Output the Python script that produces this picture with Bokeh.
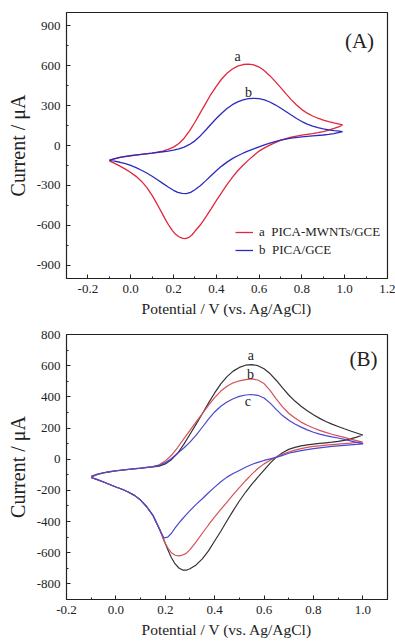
from bokeh.plotting import figure
from bokeh.layouts import column
from bokeh.models import FixedTicker, CustomJSTickFormatter, Label, Legend, LegendItem
from bokeh.embed import file_html
from bokeh.resources import INLINE

FONT = "Liberation Serif"

# ---------------- Panel A data (potential V, current uA) ----------------
A_a_up_x = [-0.10, -0.075, -0.05, -0.025, 0.00, 0.05, 0.10, 0.125, 0.15, 0.175, 0.20,
            0.225, 0.25, 0.275, 0.30, 0.325, 0.35, 0.375, 0.40, 0.425, 0.45, 0.475, 0.50,
            0.525, 0.55, 0.575, 0.60, 0.625, 0.65, 0.675, 0.70, 0.725, 0.75, 0.775, 0.80,
            0.825, 0.85, 0.875, 0.90, 0.925, 0.95, 0.975, 0.99]
A_a_up_y = [-115, -100, -90, -83, -77, -67, -57, -50, -42, -29, -12,
            15, 55, 110, 175, 245, 315, 385, 445, 500, 543, 575, 597,
            609, 612, 606, 590, 562, 525, 482, 437, 390, 345, 305, 270,
            243, 222, 205, 191, 180, 170, 161, 155]
A_a_lo_x = [0.99, 0.975, 0.95, 0.925, 0.90, 0.875, 0.85, 0.825, 0.80, 0.775, 0.75, 0.725,
            0.70, 0.675, 0.65, 0.625, 0.60, 0.575, 0.55, 0.525, 0.50, 0.475, 0.45, 0.425,
            0.40, 0.375, 0.35, 0.325, 0.30, 0.285, 0.27, 0.255, 0.24, 0.225, 0.21, 0.195,
            0.18, 0.165, 0.15, 0.125, 0.10, 0.075, 0.05, 0.025, 0.00, -0.025, -0.05, -0.075, -0.10]
A_a_lo_y = [155, 142, 128, 115, 105, 97, 90, 84, 78, 71, 62, 52,
            38, 22, 3, -18, -42, -75, -110, -148, -190, -240, -295, -355,
            -415, -478, -540, -598, -645, -675, -693, -700, -697, -686, -668, -640,
            -605, -565, -520, -445, -375, -315, -268, -232, -203, -178, -155, -135, -115]

A_b_up_x = [-0.10, -0.075, -0.05, -0.025, 0.00, 0.05, 0.10, 0.15, 0.175, 0.20, 0.225, 0.25,
            0.275, 0.30, 0.325, 0.35, 0.375, 0.40, 0.425, 0.45, 0.475, 0.50, 0.525, 0.55,
            0.575, 0.60, 0.625, 0.65, 0.675, 0.70, 0.725, 0.75, 0.775, 0.80, 0.825, 0.85,
            0.875, 0.90, 0.925, 0.95, 0.975, 0.99]
A_b_up_y = [-110, -98, -89, -82, -76, -66, -57, -47, -42, -35, -26, -12,
            8, 35, 72, 115, 160, 203, 243, 278, 307, 328, 343, 352,
            355, 352, 343, 327, 306, 282, 256, 229, 203, 180, 161, 146,
            134, 125, 118, 112, 108, 105]
A_b_lo_x = [0.99, 0.975, 0.95, 0.925, 0.90, 0.85, 0.80, 0.75, 0.70, 0.675, 0.65, 0.625,
            0.60, 0.575, 0.55, 0.525, 0.50, 0.475, 0.45, 0.425, 0.40, 0.375, 0.35, 0.325,
            0.30, 0.28, 0.26, 0.24, 0.22, 0.20, 0.175, 0.15, 0.125, 0.10, 0.075, 0.05,
            0.025, 0.00, -0.025, -0.05, -0.075, -0.10]
A_b_lo_y = [105, 98, 90, 84, 79, 72, 65, 55, 40, 30, 18, 4,
            -10, -25, -41, -58, -77, -99, -125, -155, -190, -228, -266, -302,
            -333, -352, -362, -360, -352, -337, -312, -285, -257, -231, -207, -186,
            -166, -150, -137, -126, -117, -110]

A_x_ticks = [-0.2, 0.0, 0.2, 0.4, 0.6, 0.8, 1.0, 1.2]
A_y_ticks = [-900, -600, -300, 0, 300, 600, 900]
A_x_minor = [-0.3, -0.2, -0.1, 0.0, 0.1, 0.2, 0.3, 0.4, 0.5, 0.6, 0.7, 0.8, 0.9, 1.0, 1.1, 1.2]
A_y_minor = [-1050, -900, -750, -600, -450, -300, -150, 0, 150, 300, 450, 600, 750, 900]
A_legend = ["a  PICA-MWNTs/GCE", "b  PICA/GCE"]
A_curve_tags = ["a", "b"]
A_tag_x = [0.50, 0.55]
A_tag_y = [668, 398]

# ---------------- Panel B data ----------------
B_up_x = [-0.10, -0.075, -0.05, -0.025, 0.00, 0.05, 0.10, 0.15, 0.175, 0.20, 0.225, 0.25,
          0.275, 0.30, 0.325, 0.35, 0.375, 0.40, 0.425, 0.45, 0.475, 0.50, 0.525, 0.55,
          0.575, 0.60, 0.625, 0.65, 0.675, 0.70, 0.725, 0.75, 0.775, 0.80, 0.825, 0.85,
          0.875, 0.90, 0.925, 0.95, 0.975, 1.00]
B_a_up_y = [-115, -98, -88, -81, -75, -66, -58, -50, -44, -30, -3, 38,
            95, 160, 225, 292, 360, 425, 483, 530, 565, 589, 603, 607,
            600, 580, 548, 505, 457, 412, 373, 340, 311, 285, 262, 242,
            225, 210, 195, 181, 168, 155]
B_b_up_y = [-112, -97, -87, -80, -74, -65, -57, -47, -36, -12, 25, 75,
            130, 185, 240, 292, 345, 395, 437, 468, 490, 503, 511, 515,
            508, 485, 440, 385, 336, 295, 264, 238, 218, 200, 185, 172,
            160, 150, 140, 129, 119, 110]
B_c_up_y = [-110, -96, -87, -80, -74, -65, -57, -48, -40, -22, 5, 38,
            72, 110, 155, 205, 257, 303, 340, 367, 388, 403, 412, 415,
            410, 393, 360, 318, 280, 250, 226, 206, 188, 173, 161, 151,
            143, 136, 127, 118, 108, 100]

B_lo_x = [1.00, 0.975, 0.95, 0.925, 0.90, 0.875, 0.85, 0.825, 0.80, 0.775, 0.75, 0.725,
          0.70, 0.675, 0.65, 0.625, 0.60, 0.575, 0.55, 0.525, 0.50, 0.475, 0.45, 0.425,
          0.40, 0.375, 0.35, 0.325, 0.30, 0.285, 0.27, 0.255, 0.24, 0.225, 0.21, 0.195,
          0.18, 0.165, 0.15, 0.125, 0.10, 0.075, 0.05, 0.025, 0.00, -0.025, -0.05, -0.075, -0.10]
B_a_lo_y = [155, 142, 130, 121, 114, 109, 105, 101, 97, 92, 85, 76,
            63, 42, 13, -25, -70, -115, -162, -212, -268, -330, -395, -462,
            -525, -588, -639, -678, -703, -712, -711, -698, -672, -632, -580, -520,
            -458, -410, -360, -305, -262, -232, -210, -193, -178, -162, -146, -131, -117]
B_b_lo_y = [110, 108, 103, 100, 97, 94, 90, 86, 82, 76, 68, 58,
            45, 32, 15, -6, -30, -60, -97, -138, -182, -227, -275, -322,
            -370, -422, -475, -530, -580, -604, -615, -620, -616, -600, -568, -525,
            -462, -410, -360, -305, -262, -232, -210, -193, -178, -162, -146, -131, -117]
B_c_lo_y = [98, 95, 92, 89, 86, 82, 78, 73, 68, 62, 55, 47,
            38, 25, 12, 2, -8, -20, -34, -52, -72, -92, -115, -145,
            -179, -215, -254, -290, -330, -355, -382, -410, -440, -475, -500, -505,
            -462, -410, -360, -305, -262, -232, -210, -193, -178, -162, -146, -131, -117]

B_x_ticks = [-0.2, 0.0, 0.2, 0.4, 0.6, 0.8, 1.0]
B_y_ticks = [-800, -600, -400, -200, 0, 200, 400, 600, 800]
B_x_minor = [-0.2, -0.1, 0.0, 0.1, 0.2, 0.3, 0.4, 0.5, 0.6, 0.7, 0.8, 0.9, 1.0, 1.1]
B_y_minor = [-900, -800, -700, -600, -500, -400, -300, -200, -100, 0, 100, 200, 300, 400, 500, 600, 700, 800]
B_curve_tags = ["a", "b", "c"]
B_tag_x = [0.547, 0.545, 0.534]
B_tag_y = [665, 543, 370]

X_LABEL = "Potential / V (vs. Ag/AgCl)"
Y_LABEL = "Current / \u03bcA"
INK = "#222222"


def make_fig(height, x_range, y_range, xt, xm, yt, ym, top, bottom, xlab_standoff):
    p = figure(width=395, height=height, x_range=x_range, y_range=y_range,
               output_backend="svg", toolbar_location=None,
               min_border_left=66, min_border_right=8,
               min_border_top=top, min_border_bottom=bottom)
    p.background_fill_color = "white"
    p.border_fill_color = "white"
    p.outline_line_color = INK
    p.outline_line_width = 1.2
    p.xgrid.visible = False
    p.ygrid.visible = False
    p.xaxis.ticker = FixedTicker(ticks=xt, minor_ticks=xm)
    p.yaxis.ticker = FixedTicker(ticks=yt, minor_ticks=ym)
    p.xaxis.formatter = CustomJSTickFormatter(code="return tick.toFixed(1);")
    p.yaxis.formatter = CustomJSTickFormatter(code="return tick.toFixed(0);")
    for ax in (p.xaxis, p.yaxis):
        ax.major_tick_in = 4
        ax.major_tick_out = 0
        ax.minor_tick_in = 2
        ax.minor_tick_out = 0
        ax.axis_line_color = INK
        ax.major_tick_line_color = INK
        ax.minor_tick_line_color = INK
        ax.major_label_text_font = FONT
        ax.major_label_text_font_size = "13px"
        ax.major_label_text_color = INK
        ax.major_label_standoff = 6
        ax.axis_label_text_font = FONT
        ax.axis_label_text_font_style = "normal"
        ax.axis_label_text_color = INK
    p.yaxis.axis_label = Y_LABEL
    p.yaxis.axis_label_text_font_size = "20px"
    p.yaxis.axis_label_standoff = 5
    p.xaxis.axis_label = X_LABEL
    p.xaxis.axis_label_text_font_size = "15.5px"
    p.xaxis.axis_label_standoff = xlab_standoff
    return p


def tag(p, x, y, t):
    p.add_layout(Label(x=x, y=y, text=t, text_font=FONT, text_font_size="14px",
                       text_align="center", text_baseline="middle", text_color=INK))


# ---------- Panel A ----------
pA = make_fig(320, (-0.3, 1.2), (-1000, 1000), A_x_ticks, A_x_minor, A_y_ticks, A_y_minor,
              12, 42, 4)
ra = pA.line(A_a_up_x + A_a_lo_x, A_a_up_y + A_a_lo_y, line_color="#e0283c", line_width=1.3)
rb = pA.line(A_b_up_x + A_b_lo_x, A_b_up_y + A_b_lo_y, line_color="#2b2bbf", line_width=1.3)
for t, x, y in zip(A_curve_tags, A_tag_x, A_tag_y):
    tag(pA, x, y, t)
legA = Legend(items=[LegendItem(label=A_legend[0], renderers=[ra]),
                     LegendItem(label=A_legend[1], renderers=[rb])],
              location=(169, 19), border_line_alpha=0, background_fill_alpha=0,
              padding=0, margin=0, spacing=0, glyph_width=18, glyph_height=18,
              label_height=18, label_standoff=6, label_text_font=FONT,
              label_text_font_size="13px", label_text_color=INK)
pA.add_layout(legA)
pA.add_layout(Label(x=293, y=238, x_units="screen", y_units="screen", text="(A)",
                    text_font=FONT, text_font_size="21px", text_align="center",
                    text_baseline="middle", text_color=INK))

# ---------- Panel B ----------
pB = make_fig(321, (-0.2, 1.1), (-900, 800), B_x_ticks, B_x_minor, B_y_ticks, B_y_minor,
              14, 42, 4)
pB.line(B_up_x + B_lo_x, B_a_up_y + B_a_lo_y, line_color="#333333", line_width=1.2)
pB.line(B_up_x + B_lo_x, B_b_up_y + B_b_lo_y, line_color="#d8505a", line_width=1.2)
pB.line(B_up_x + B_lo_x, B_c_up_y + B_c_lo_y, line_color="#4848d0", line_width=1.2)
for t, x, y in zip(B_curve_tags, B_tag_x, B_tag_y):
    tag(pB, x, y, t)
pB.add_layout(Label(x=297, y=241, x_units="screen", y_units="screen", text="(B)",
                    text_font=FONT, text_font_size="21px", text_align="center",
                    text_baseline="middle", text_color=INK))

layout = column(pA, pB, spacing=0)
open("out.html", "w").write(file_html(layout, INLINE))
